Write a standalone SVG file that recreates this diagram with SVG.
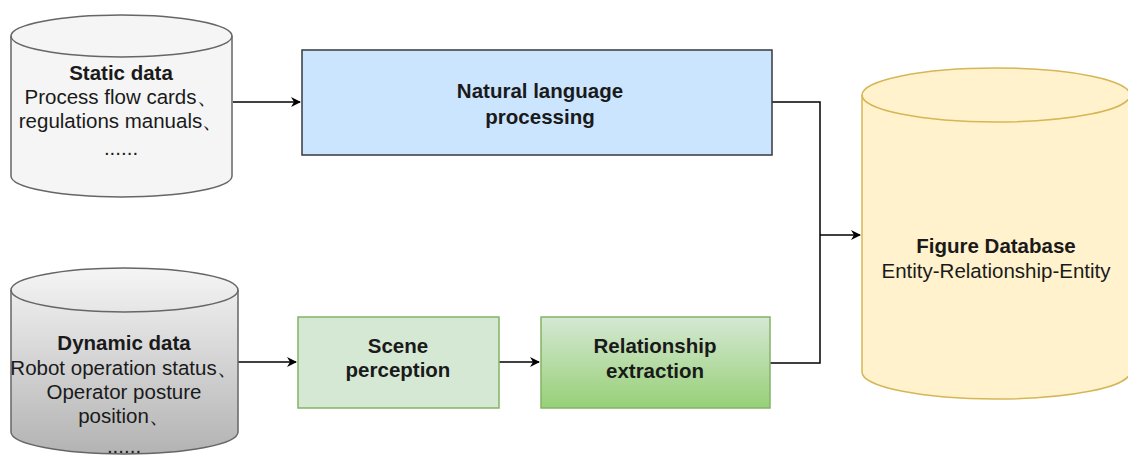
<svg xmlns="http://www.w3.org/2000/svg" width="1128" height="460" viewBox="0 0 1128 460">
<defs>
<linearGradient id="gDyn" x1="0" y1="0" x2="0" y2="1"><stop offset="0" stop-color="#f5f5f5"/><stop offset="1" stop-color="#b3b3b3"/></linearGradient>
<linearGradient id="gRel" x1="0" y1="0" x2="0" y2="1"><stop offset="0" stop-color="#d5e8d4"/><stop offset="1" stop-color="#97d077"/></linearGradient>
<marker id="arr" viewBox="0 0 10 10" refX="9" refY="5" markerWidth="10" markerHeight="10" markerUnits="userSpaceOnUse" orient="auto"><path d="M0,0 L10,5 L0,10 L3,5 Z" fill="#000"/></marker>
<style>
text{font-family:"Liberation Sans",Arial,sans-serif;font-size:20.5px;fill:#1a1a1a;text-anchor:middle}
.b{font-weight:bold}
.c{stroke-width:1.5;fill:none;stroke:#000}
</style>
</defs>
<g id="connectors">
<path class="c" d="M233,102 H300" marker-end="url(#arr)"/>
<path class="c" d="M238,362 H296" marker-end="url(#arr)"/>
<path class="c" d="M499,362 H539" marker-end="url(#arr)"/>
<path class="c" d="M772,102 H820 V363 H770"/>
<path class="c" d="M820,235 H860" marker-end="url(#arr)"/>
</g>
<g id="static">
<path d="M11,36 A110.5,21 0 0 1 232,36 V176 A110.5,21 0 0 1 11,176 Z" fill="#f5f5f5" stroke="#666" stroke-width="1.5"/>
<path d="M11,36 A110.5,21 0 0 0 232,36" fill="none" stroke="#666" stroke-width="1.5"/>
<text x="121" y="80" class="b">Static data</text>
<text x="121" y="104">Process flow cards、</text>
<text x="121" y="128">regulations manuals、</text>
<text x="121" y="155">......</text>
</g>
<g id="dynamic">
<path d="M11,290 A113.5,22 0 0 1 238,290 V432 A113.5,22 0 0 1 11,432 Z" fill="url(#gDyn)" stroke="#666" stroke-width="1.5"/>
<path d="M11,290 A113.5,22 0 0 0 238,290" fill="none" stroke="#666" stroke-width="1.5"/>
<text x="124" y="350" class="b">Dynamic data</text>
<text x="124" y="375">Robot operation status、</text>
<text x="124" y="399">Operator posture</text>
<text x="124" y="423">position、</text>
<text x="124" y="453">......</text>
</g>
<g id="nlp">
<rect x="302" y="50" width="470" height="105" fill="#cce5ff" stroke="#36393d" stroke-width="1.5"/>
<text x="540" y="98" class="b">Natural language</text>
<text x="540" y="124" class="b">processing</text>
</g>
<g id="scene">
<rect x="298" y="317" width="201" height="91" fill="#d5e8d4" stroke="#82b366" stroke-width="1.5"/>
<text x="398" y="353" class="b">Scene</text>
<text x="398" y="377" class="b">perception</text>
</g>
<g id="relation">
<rect x="541" y="317" width="229" height="91" fill="url(#gRel)" stroke="#82b366" stroke-width="1.5"/>
<text x="655" y="353" class="b">Relationship</text>
<text x="655" y="378" class="b">extraction</text>
</g>
<g id="figuredb">
<path d="M862,95 A134,27 0 0 1 1130,95 V372 A134,27 0 0 1 862,372 Z" fill="#fff2cc" stroke="#d6b656" stroke-width="1.5"/>
<path d="M862,95 A134,27 0 0 0 1130,95" fill="none" stroke="#d6b656" stroke-width="1.5"/>
<text x="996" y="253" class="b">Figure Database</text>
<text x="996" y="278">Entity-Relationship-Entity</text>
</g>
</svg>
